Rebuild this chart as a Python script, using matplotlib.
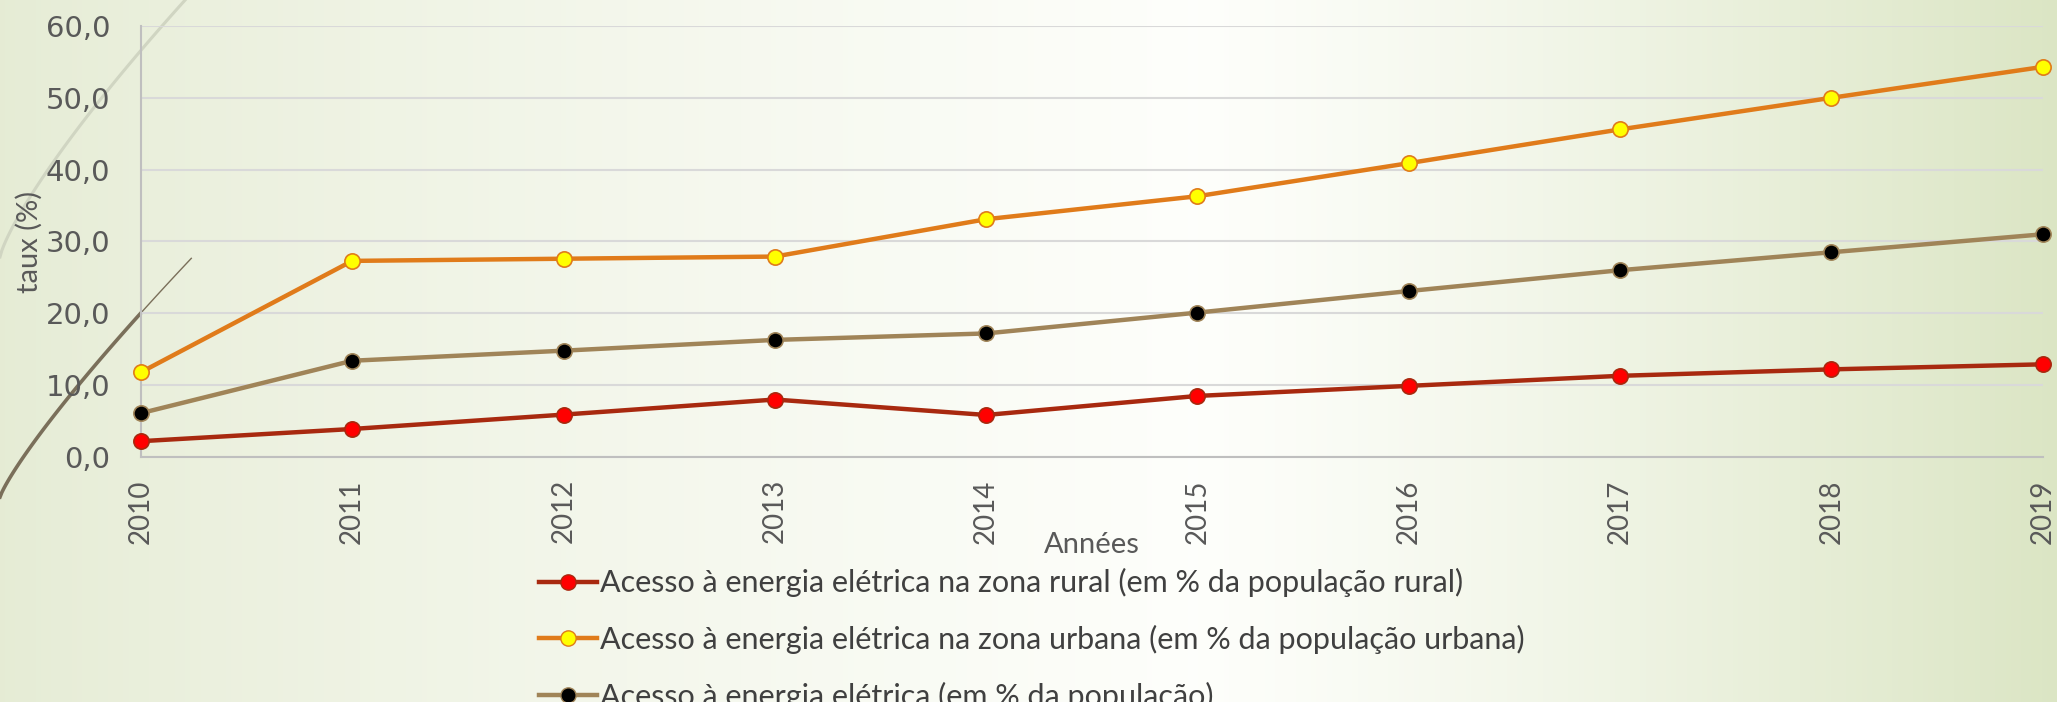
import matplotlib
matplotlib.use('Agg')
import matplotlib.pyplot as plt
import numpy as np
from matplotlib.ticker import FuncFormatter
from matplotlib.lines import Line2D

# Data
years = [2010, 2011, 2012, 2013, 2014, 2015, 2016, 2017, 2018, 2019]
rural = [2.2, 3.9, 5.9, 8.0, 5.85, 8.5, 9.9, 11.3, 12.2, 12.9]
urbana = [11.8, 27.3, 27.6, 27.9, 33.1, 36.3, 40.9, 45.6, 50.0, 54.3]
total = [6.1, 13.4, 14.8, 16.3, 17.2, 20.1, 23.1, 26.0, 28.5, 31.0]

labels = ['Acesso à energia elétrica na zona rural (em % da população rural)',
          'Acesso à energia elétrica na zona urbana (em % da população urbana)',
          'Acesso à energia elétrica (em % da população)']

narrow = ['Lato', 'DejaVu Sans']

fig = plt.figure(figsize=(20.57, 7.02), dpi=100)

# background gradient
bg = fig.add_axes([0, 0, 1, 1], zorder=-10)
xs = np.linspace(0, 1, 400)
c_left = np.array([0.90, 0.925, 0.835])
c_mid = np.array([0.995, 0.998, 0.985])
c_right = np.array([0.86, 0.90, 0.77])
w = np.where(xs < 0.58, xs / 0.58, (xs - 0.58) / 0.42)
row = np.where((xs < 0.58)[:, None],
               c_left + (c_mid - c_left) * w[:, None] ** 0.8,
               c_mid + (c_right - c_mid) * w[:, None] ** 1.2)
bg.imshow(row[None, :, :], aspect='auto', extent=[0, 1, 0, 1])
# decorative arcs
t = np.linspace(0, 1, 100)
bg.plot(0.0 + 0.09 * t, 0.634 + 0.366 * t ** 0.8, color='#d0d5c2', lw=2.2)
bg.plot(0.0 + 0.093 * t[:74], 0.292 + 0.34 * t[:74] ** 0.85, color='#7a6f5a', lw=2.6)
bg.plot(0.0 + 0.093 * t[73:], 0.292 + 0.34 * t[73:] ** 0.85, color='#7a6f5a', lw=1.0)
bg.set_xlim(0, 1)
bg.set_ylim(0, 1)
bg.axis('off')

ax = fig.add_axes([0.0685, 0.349, 0.9245, 0.614])
ax.patch.set_alpha(0)

ax.plot(years, rural, color='#a8290f', lw=3.2, marker='o', ms=11,
        mfc='#ff0000', mec='#a8290f', mew=1.2, clip_on=False, zorder=5)
ax.plot(years, urbana, color='#e07b1a', lw=3.2, marker='o', ms=11,
        mfc='#ffff00', mec='#e07b1a', mew=1.2, clip_on=False, zorder=5)
ax.plot(years, total, color='#a08458', lw=3.2, marker='o', ms=11,
        mfc='#000000', mec='#a08458', mew=1.2, clip_on=False, zorder=5)

ax.set_xlim(2010, 2019)
ax.set_ylim(0, 60)
ax.set_yticks(np.arange(0, 61, 10))
ax.yaxis.set_major_formatter(FuncFormatter(lambda v, p: f'{v:.1f}'.replace('.', ',')))
ax.set_xticks(years)
ax.set_xticklabels([str(y) for y in years], rotation=90, family=narrow, fontsize=20, color='#595959')
for lab in ax.get_yticklabels():
    lab.set_fontsize(21)
    lab.set_color('#595959')
ax.tick_params(axis='y', length=0, pad=22)
ax.tick_params(axis='x', length=0, pad=16)
ax.grid(axis='y', color='#d9d9d9', lw=1.5)
ax.set_axisbelow(True)
for s in ['top', 'right']:
    ax.spines[s].set_visible(False)
for s in ['left', 'bottom']:
    ax.spines[s].set_color('#bfbfbf')
    ax.spines[s].set_linewidth(1.5)

ax.set_xlabel('Années', family=narrow, fontsize=21, color='#595959', va='center')
ax.xaxis.set_label_coords(0.5, -0.205)
ax.set_ylabel('taux (%)', family=narrow, fontsize=21, color='#595959')
ax.yaxis.set_label_coords(-0.0515, 0.5)

handles = [
    Line2D([], [], color='#a8290f', lw=3.2, marker='o', ms=11, mfc='#ff0000', mec='#a8290f'),
    Line2D([], [], color='#e07b1a', lw=3.2, marker='o', ms=11, mfc='#ffff00', mec='#e07b1a'),
    Line2D([], [], color='#a08458', lw=3.2, marker='o', ms=11, mfc='#000000', mec='#a08458'),
]
leg = fig.legend(handles, labels, loc='center left', bbox_to_anchor=(0.262, 0.089),
                 frameon=False, prop={'family': narrow, 'size': 22},
                 handlelength=1.9, handletextpad=0.1, labelspacing=0.9,
                 borderaxespad=0, borderpad=0)
for txt in leg.get_texts():
    txt.set_color('#404040')

fig.savefig('out.png', dpi=100)
